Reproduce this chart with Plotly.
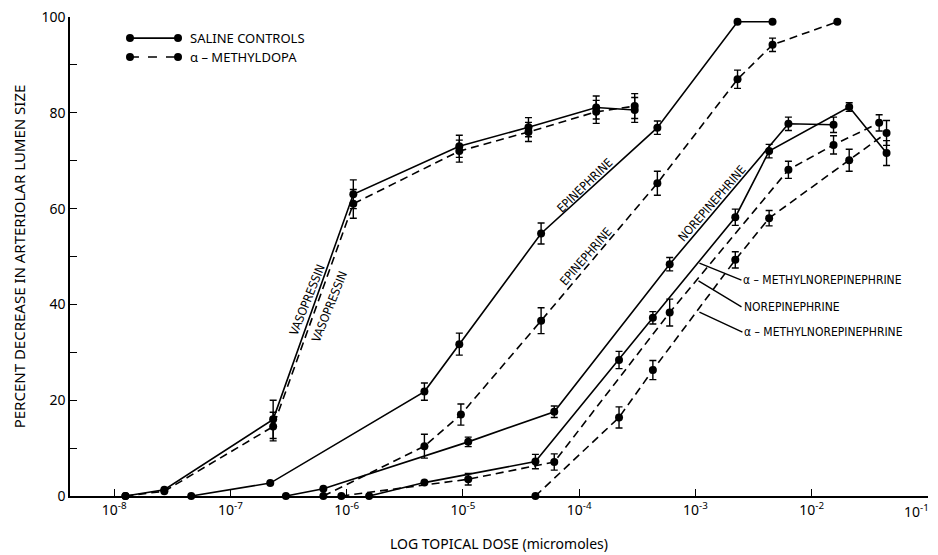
import plotly.graph_objects as go

# ---------------- data ----------------
tick_vals = [1e-8, 1e-7, 1e-6, 1e-5, 1e-4, 1e-3, 1e-2, 1e-1]
tick_text = ["10<sup>-8</sup>", "10<sup>-7</sup>", "10<sup>-6</sup>", "10<sup>-5</sup>",
             "10<sup>-4</sup>", "10<sup>-3</sup>", "10<sup>-2</sup>", "10<sup>-1</sup>"]
y_ticks = [0, 20, 40, 60, 80, 100]

# Vasopressin
vaso_x = [1.25e-8, 2.7e-8, 2.33e-7, 1.14e-6, 9.3e-6, 3.66e-5, 1.4e-4, 3.0e-4]
vaso_saline = [0, 1.3, 16.0, 63.0, 73.0, 77.0, 81.1, 80.6]
vaso_saline_err = [0, 0, 4.0, 3.0, 2.3, 2.0, 2.4, 2.6]
vaso_dopa = [0, 1.0, 14.5, 61.0, 72.0, 76.0, 80.2, 81.4]
vaso_dopa_err = [0, 0, 3.0, 3.0, 2.3, 2.0, 2.4, 2.6]

# Epinephrine
epi_saline_x = [4.6e-8, 2.2e-7, 4.66e-6, 9.3e-6, 4.7e-5, 4.7e-4, 2.3e-3, 4.6e-3]
epi_saline = [0, 2.7, 21.8, 31.7, 54.8, 76.9, 99.0, 99.0]
epi_saline_err = [0, 0, 1.8, 2.3, 2.2, 1.4, 0, 0]
epi_dopa_x = [6.3e-7, 4.66e-6, 9.6e-6, 4.7e-5, 4.7e-4, 2.3e-3, 4.6e-3, 1.66e-2]
epi_dopa = [0, 10.4, 17.0, 36.6, 65.3, 87.0, 94.2, 99.0]
epi_dopa_err = [0, 2.5, 2.2, 2.7, 2.5, 1.9, 1.4, 0]

# Norepinephrine
ne_saline_x = [3.0e-7, 6.3e-7, 1.11e-5, 6.1e-5, 6.0e-4, 6.3e-3, 1.54e-2]
ne_saline = [0, 1.5, 11.3, 17.6, 48.4, 77.7, 77.5]
ne_saline_err = [0, 0, 1.0, 1.2, 1.4, 1.4, 1.6]
ne_dopa_x = [9.0e-7, 1.11e-5, 6.1e-5, 6.0e-4, 6.3e-3, 1.54e-2, 3.8e-2]
ne_dopa = [0, 3.5, 7.1, 38.3, 68.1, 73.3, 77.9]
ne_dopa_err = [0, 1.2, 1.7, 2.8, 1.8, 1.9, 1.7]

# alpha-Methylnorepinephrine
amne_saline_x = [1.56e-6, 4.66e-6, 4.2e-5, 2.2e-4, 4.3e-4, 2.2e-3, 4.3e-3, 2.1e-2, 4.4e-2]
amne_saline = [0, 2.8, 7.2, 28.4, 37.2, 58.2, 72.0, 81.2, 71.6]
amne_saline_err = [0, 0, 1.5, 1.8, 1.3, 1.7, 1.4, 0.9, 2.6]
amne_dopa_x = [4.2e-5, 2.2e-4, 4.3e-4, 2.2e-3, 4.3e-3, 2.1e-2, 4.4e-2]
amne_dopa = [0, 16.4, 26.3, 49.3, 58.0, 70.1, 75.8]
amne_dopa_err = [0, 2.2, 2.0, 1.7, 1.6, 2.3, 2.6]

legend_labels = ["SALINE CONTROLS", "α – METHYLDOPA"]

# ---------------- figure ----------------
fig = go.Figure()

def add_series(x, y, err, dash):
    fig.add_trace(go.Scatter(
        x=x, y=y, mode="lines+markers",
        line=dict(color="black", width=1.6, dash=dash),
        marker=dict(color="black", size=8),
        error_y=dict(type="data", array=err, visible=True, color="black",
                     thickness=1.4, width=3.5),
        cliponaxis=False, showlegend=False, hoverinfo="x+y"))

DASH = "8px,5px"
add_series(vaso_x, vaso_saline, vaso_saline_err, "solid")
add_series(vaso_x, vaso_dopa, vaso_dopa_err, DASH)
add_series(epi_saline_x, epi_saline, epi_saline_err, "solid")
add_series(epi_dopa_x, epi_dopa, epi_dopa_err, DASH)
add_series(ne_saline_x, ne_saline, ne_saline_err, "solid")
add_series(ne_dopa_x, ne_dopa, ne_dopa_err, DASH)
add_series(amne_saline_x, amne_saline, amne_saline_err, "solid")
add_series(amne_dopa_x, amne_dopa, amne_dopa_err, DASH)

LBL = dict(family="DejaVu Sans Condensed, Liberation Sans Narrow, sans-serif", size=12, color="black")

# rotated curve labels (x in log10 units for log axis annotations)
curve_labels = [
    ("VASOPRESSIN", -6.339, 40.9, -68),
    ("VASOPRESSIN", -6.150, 39.5, -68),
    ("EPINEPHRINE", -3.947, 64.9, -44),
    ("EPINEPHRINE", -3.938, 50.1, -49),
    ("NOREPINEPHRINE", -2.854, 61.2, -49),
]
for txt, lx, ly, ang in curve_labels:
    fig.add_annotation(x=lx, y=ly, xref="x", yref="y", text=txt, showarrow=False,
                       textangle=ang, font=LBL)

# side labels with pointer lines
side_labels = [
    ("α – METHYLNOREPINEPHRINE", -2.966, 48.6, 42, 17),
    ("NOREPINEPHRINE", -2.974, 44.9, 43, 26),
    ("α – METHYLNOREPINEPHRINE", -2.966, 38.4, 43, 20),
]
for txt, lx, ly, ax, ay in side_labels:
    fig.add_annotation(x=lx, y=ly, xref="x", yref="y", text=txt, showarrow=True,
                       arrowhead=0, arrowwidth=1.4, arrowcolor="black",
                       ax=ax, ay=ay, xanchor="left", yanchor="middle", font=LBL,
                       standoff=0, startstandoff=0)

# custom legend (line with dots at both ends)
leg_rows = [(0.956, "solid", legend_labels[0]), (0.9165, "dash", legend_labels[1])]
x0p, x1p = 0.0699, 0.1259
for yp, dsh, txt in leg_rows:
    fig.add_shape(type="line", xref="paper", yref="paper", x0=x0p, x1=x1p, y0=yp, y1=yp,
                  line=dict(color="black", width=1.6, dash=dsh))
    for xp in (x0p, x1p):
        fig.add_shape(type="circle", xref="paper", yref="paper", xsizemode="pixel",
                      ysizemode="pixel", xanchor=xp, yanchor=yp, x0=-4, x1=4, y0=-4, y1=4,
                      fillcolor="black", line=dict(color="black", width=0))
    fig.add_annotation(x=0.1375, y=yp, xref="paper", yref="paper", text=txt,
                       showarrow=False, xanchor="left", yanchor="middle",
                       font=dict(family="Noto Sans, sans-serif", size=13, color="black"))

X_FONT = dict(family="Noto Sans, Liberation Sans, sans-serif", size=14, color="black")
Y_FONT = dict(family="Noto Sans, Liberation Sans, sans-serif", size=14, color="black")

# the last decade label sits at the right page edge: draw it as a right-anchored
# annotation so that it stays fully inside the figure
axis_tick_text = tick_text[:-1] + [""]
fig.add_annotation(x=-1.0, xref="x", y=0, yref="paper", text=tick_text[-1],
                   showarrow=False, xanchor="right", yanchor="top", xshift=3, yshift=-3,
                   font=X_FONT)

# the page body has an 8px default margin, so the figure is sized/offset to compensate
fig.update_layout(
    width=930, height=547,
    margin=dict(l=62, r=10, t=9, b=59, autoexpand=False),
    paper_bgcolor="white", plot_bgcolor="white",
    showlegend=False,
    xaxis=dict(type="log", range=[-8.38, -1.0], tickvals=tick_vals, ticktext=axis_tick_text,
               ticks="inside", ticklen=7, tickwidth=1.3, tickcolor="black",
               showline=True, linecolor="black", linewidth=1.5, showgrid=False,
               zeroline=False, tickfont=X_FONT, ticklabeloverflow="allow",
               automargin=False,
               title=dict(text="LOG TOPICAL DOSE (micromoles)", standoff=22,
                          font=dict(family="Noto Sans, sans-serif", size=14, color="black"))),
    yaxis=dict(range=[0, 100], tickvals=y_ticks, ticks="inside", ticklen=7, tickwidth=1.3,
               tickcolor="black", showline=True, linecolor="black", linewidth=1.5,
               showgrid=False, zeroline=False, tickfont=Y_FONT, ticklabeloverflow="allow",
               automargin=False,
               minor=dict(ticks="inside", ticklen=7, tickwidth=1.3, tickcolor="black",
                          tick0=0, dtick=10, showgrid=False),
               title=dict(text="PERCENT DECREASE IN ARTERIOLAR LUMEN SIZE", standoff=12,
                          font=dict(family="Noto Sans, sans-serif", size=15, color="black"))),
)

fig.write_html("out.html")
